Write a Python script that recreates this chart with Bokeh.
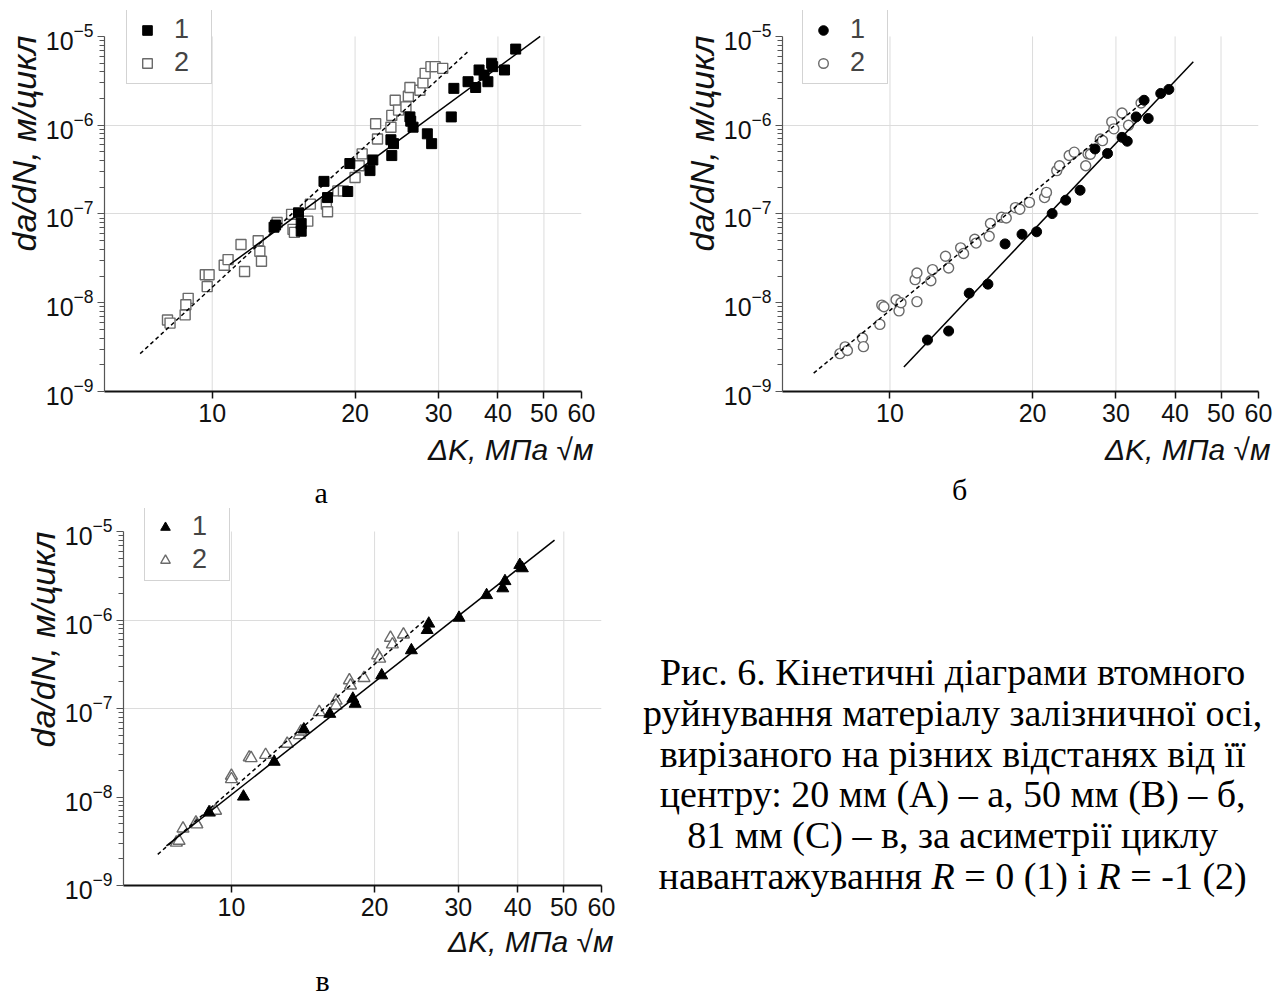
import math
from bokeh.plotting import figure
from bokeh.models import Range1d, FixedTicker, Legend, LegendItem, Div, PrintfTickFormatter, Title
from bokeh.layouts import row, column
from bokeh.embed import file_html
from bokeh.resources import INLINE

# ---------------- data ----------------
x_ticks = [10, 20, 30, 40, 50, 60]
x_grid = [10, 20, 30, 40, 50]
y_ticks = [1e-9, 1e-8, 1e-7, 1e-6, 1e-5]
y_grid = [1e-7, 1e-6]
y_minor = [k * 10.0 ** e for e in range(-9, -5) for k in range(2, 10)]
x_range_lim = (5.93, 60)
y_bottom = 1e-9
y_top_ab = 1.96e-5   # head-room above 1e-5 where the legend box sits
y_top_c = 1.82e-5

# panel а  (series 1: R = 0, series 2: R = -1)
a1_x = [13.5, 13.6, 15.2, 15.4, 15.4, 17.2, 17.5, 19.3, 19.5, 21.5, 21.8, 23.8, 24.1, 23.9,
        26.1, 26.2, 26.5, 28.4, 29.0, 31.9, 32.3, 34.6, 35.9, 36.5, 37.4, 38.1, 38.8, 39.0, 41.3, 43.6]
a1_y = [7.1e-8, 7.5e-8, 1.03e-7, 7.8e-8, 6.4e-8, 2.33e-7, 1.53e-7, 1.79e-7, 3.7e-7, 3.08e-7, 4.06e-7,
        6.86e-7, 6.2e-7, 4.55e-7, 1.24e-6, 1.11e-6, 9.5e-7, 8.0e-7, 6.2e-7, 1.24e-6, 2.6e-6, 3.09e-6,
        2.66e-6, 4.19e-6, 3.67e-6, 3.09e-6, 4.99e-6, 4.57e-6, 4.19e-6, 7.2e-6]
a2_x = [8.05, 8.15, 8.77, 8.9, 8.8, 9.67, 9.85, 9.76, 10.6, 10.8, 11.5, 11.7, 12.5, 12.6, 12.7,
        13.7, 14.7, 14.8, 14.9, 15.9, 16.1, 17.4, 17.5, 18.4, 18.9, 20.0, 20.4, 20.7, 22.1, 22.3,
        23.8, 23.9, 24.3, 24.7, 25.6, 25.9, 26.1, 27.4, 27.8, 28.1, 28.9, 29.5, 30.6]
a2_y = [6.4e-9, 5.9e-9, 7.3e-9, 1.12e-8, 9.5e-9, 2.07e-8, 2.07e-8, 1.52e-8, 2.64e-8, 3.06e-8,
        4.53e-8, 2.25e-8, 5.0e-8, 3.8e-8, 2.93e-8, 8.0e-8, 9.9e-8, 6.7e-8, 6.2e-8, 8.3e-8, 1.29e-7,
        1.29e-7, 1.06e-7, 1.82e-7, 1.82e-7, 2.58e-7, 3.5e-7, 4.75e-7, 1.04e-6, 7.0e-7, 9.5e-7,
        1.29e-6, 1.91e-6, 1.48e-6, 1.61e-6, 2.12e-6, 2.66e-6, 2.48e-6, 3.0e-6, 3.84e-6, 4.57e-6,
        4.57e-6, 4.37e-6]
a1_fit_x = [10.9, 49.1]
a1_fit_y = [2.7e-8, 1.0e-5]
a2_fit_x = [7.05, 34.6]
a2_fit_y = [2.67e-9, 6.76e-6]

# panel б
b1_x = [12.0, 13.3, 14.7, 16.1, 17.5, 19.0, 20.4, 22.0, 23.5, 25.2, 27.1, 28.8, 30.9, 31.7,
        33.1, 34.4, 35.1, 37.3, 38.8]
b1_y = [3.8e-9, 4.8e-9, 1.28e-8, 1.62e-8, 4.6e-8, 5.9e-8, 6.3e-8, 1.01e-7, 1.43e-7, 1.85e-7,
        5.4e-7, 4.8e-7, 7.3e-7, 6.6e-7, 1.24e-6, 1.91e-6, 1.19e-6, 2.28e-6, 2.53e-6]
b2_x = [7.84, 8.04, 8.13, 8.75, 8.79, 9.52, 9.61, 9.71, 10.3, 10.45, 10.55, 11.3, 11.4, 11.4,
        12.2, 12.3, 13.1, 13.3, 14.1, 14.3, 15.1, 15.2, 16.2, 16.3, 17.2, 17.6, 18.4, 18.8, 19.7,
        21.2, 21.4, 22.5, 22.8, 23.9, 24.5, 25.9, 26.2, 26.5, 27.8, 28.1, 29.4, 29.7, 30.9, 31.9, 33.9]
b2_y = [2.67e-9, 3.18e-9, 2.9e-9, 4.0e-9, 3.2e-9, 5.7e-9, 9.4e-9, 9.0e-9, 1.08e-8, 8.1e-9, 1.0e-8,
        1.82e-8, 1.03e-8, 2.16e-8, 1.77e-8, 2.36e-8, 3.34e-8, 2.46e-8, 4.15e-8, 3.58e-8, 5.2e-8,
        4.7e-8, 5.6e-8, 7.8e-8, 9.2e-8, 9.0e-8, 1.18e-7, 1.13e-7, 1.35e-7, 1.53e-7, 1.75e-7, 3.08e-7,
        3.5e-7, 4.55e-7, 4.97e-7, 3.5e-7, 4.75e-7, 4.7e-7, 7.0e-7, 6.7e-7, 1.09e-6, 9.1e-7, 1.37e-6,
        1.0e-6, 1.78e-6]
b1_fit_x = [10.7, 43.7]
b1_fit_y = [1.89e-9, 5.2e-6]
b2_fit_x = [6.9, 34.6]
b2_fit_y = [1.61e-9, 1.91e-6]

# panel в
c1_x = [8.97, 10.6, 12.3, 14.2, 16.1, 18.0, 18.2, 20.7, 23.9, 26.0, 25.8, 30.1, 34.4, 37.2,
        37.6, 40.4, 40.9]
c1_y = [6.7e-9, 1.01e-8, 2.5e-8, 5.8e-8, 8.7e-8, 1.29e-7, 1.13e-7, 2.37e-7, 4.55e-7, 9.1e-7,
        7.7e-7, 1.06e-6, 1.91e-6, 2.28e-6, 2.75e-6, 4.19e-6, 3.84e-6]
c2_x = [7.66, 7.76, 7.91, 8.42, 8.46, 9.0, 9.26, 10.0, 10.0, 10.9, 11.0, 11.8, 13.1, 13.9, 14.0,
        15.3, 16.6, 16.6, 17.7, 17.8, 19.0, 20.3, 20.5, 21.6, 21.8, 23.0]
c2_y = [3.05e-9, 3.2e-9, 4.4e-9, 5.14e-9, 4.9e-9, 6.7e-9, 7.0e-9, 1.74e-8, 1.59e-8, 2.8e-8, 2.75e-8,
        2.99e-8, 4.0e-8, 5.0e-8, 5.5e-8, 9.1e-8, 1.23e-7, 1.08e-7, 2.08e-7, 1.82e-7, 2.21e-7, 4.0e-7,
        3.66e-7, 6.3e-7, 5.3e-7, 6.86e-7]
c1_fit_x = [7.3, 47.8]
c1_fit_y = [2.8e-9, 8.0e-6]
c2_fit_x = [7.0, 25.5]
c2_fit_y = [2.25e-9, 9.96e-7]

y_label_text = "da/dN, м/цикл"
x_label_text = "ΔK, МПа √м"
series_labels = ["1", "2"]
caption_lines = [
    "Рис. 6. Кінетичні діаграми втомного",
    "руйнування матеріалу залізничної осі,",
    "вирізаного на різних відстанях від її",
    "центру: 20 мм (А) – а, 50 мм (В) – б,",
    "81 мм (С) – в, за асиметрії циклу",
    "навантажування <i>R</i> = 0 (1) і <i>R</i> = -1 (2)",
]

SANS = "Liberation Sans"
SERIF = "Liberation Serif"


def make_panel(width, height, bl, br, bt, bb, y_top, s1, s2, f1, f2, marker, size1, size2,
               legend_loc, ylab_offset, xlab_standoff):
    p = figure(width=width, height=height, x_axis_type="log", y_axis_type="log",
               x_range=Range1d(*x_range_lim), y_range=Range1d(y_bottom, y_top),
               output_backend="svg", toolbar_location=None,
               min_border_left=bl, min_border_right=br, min_border_top=bt, min_border_bottom=bb)
    p.outline_line_color = None
    p.background_fill_color = "white"
    p.border_fill_color = "white"

    p.xaxis.ticker = FixedTicker(ticks=x_ticks, minor_ticks=[])
    p.xaxis.formatter = PrintfTickFormatter(format="%d")
    p.yaxis.ticker = FixedTicker(ticks=y_ticks, minor_ticks=y_minor)
    p.yaxis.bounds = (y_ticks[0], y_ticks[-1])
    p.xgrid.visible = False
    p.ygrid.ticker = FixedTicker(ticks=y_grid)
    p.ygrid.grid_line_color = "#dcdcdc"
    p.ygrid.grid_line_width = 1
    # vertical grid lines only up to 10^-5
    p.segment(x0=x_grid, y0=[y_ticks[0]] * len(x_grid), x1=x_grid, y1=[y_ticks[-1]] * len(x_grid),
              line_color="#dcdcdc", line_width=1, level="underlay")

    for ax in (p.xaxis[0], p.yaxis[0]):
        ax.major_label_text_font = SANS
        ax.major_label_text_font_size = "25px"
        ax.major_label_text_color = "#111111"
        ax.major_tick_in = 0
        ax.minor_tick_in = 0
    p.xaxis.axis_line_color = "#111111"
    p.xaxis.axis_line_width = 2
    p.xaxis.major_tick_line_color = "#111111"
    p.xaxis.major_tick_line_width = 1.5
    p.xaxis.major_tick_out = 7
    p.xaxis.major_label_standoff = 5
    p.yaxis.axis_line_color = "#555555"
    p.yaxis.axis_line_width = 1.2
    p.yaxis.major_tick_line_color = "#555555"
    p.yaxis.major_tick_out = 7
    p.yaxis.minor_tick_line_color = "#555555"
    p.yaxis.minor_tick_out = 5
    p.yaxis.major_label_standoff = 4

    r2 = p.scatter(s2[0], s2[1], marker=marker, size=size2, fill_color="white",
                   line_color="#6a6a6a", line_width=1.4)
    r1 = p.scatter(s1[0], s1[1], marker=marker, size=size1, fill_color="black",
                   line_color="black", line_width=1)
    p.line(f1[0], f1[1], line_color="black", line_width=1.5)
    p.line(f2[0], f2[1], line_color="black", line_width=1.5, line_dash="4 3")

    legend = Legend(items=[LegendItem(label=series_labels[0], renderers=[r1]),
                           LegendItem(label=series_labels[1], renderers=[r2])],
                    location=legend_loc, margin=0, padding=5, spacing=2,
                    glyph_width=30, glyph_height=24, label_height=24, label_width=32,
                    label_standoff=12, label_text_font=SANS, label_text_font_size="27px",
                    border_line_color="#a8a8a8", border_line_width=1.5,
                    background_fill_color="white", background_fill_alpha=1)
    p.add_layout(legend, "center")

    p.add_layout(Title(text=y_label_text, align="right", offset=ylab_offset, standoff=0,
                       text_font=SANS, text_font_style="italic", text_font_size="34px",
                       text_color="#111111"), "left")
    p.add_layout(Title(text=x_label_text, align="right", offset=-12, standoff=xlab_standoff,
                       text_font=SANS, text_font_style="italic", text_font_size="30px",
                       text_color="#111111"), "below")
    return p


def letter_title(letter, offset):
    return Title(text=letter, align="left", offset=offset, standoff=0,
                 text_font=SERIF, text_font_style="normal", text_font_size="30px",
                 text_color="black")


pa = make_panel(678, 472, 104, 97, 10, 81, y_top_ab, (a1_x, a1_y), (a2_x, a2_y),
                (a1_fit_x, a1_fit_y), (a2_fit_x, a2_fit_y), "square", 10, 10,
                (22, 307), 25, 12)
pb = make_panel(598, 472, 104, 18, 10, 81, y_top_ab, (b1_x, b1_y), (b2_x, b2_y),
                (b1_fit_x, b1_fit_y), (b2_fit_x, b2_fit_y), "circle", 10, 10,
                (20, 307), 25, 12)
pc = make_panel(630, 524, 123, 29, 36, 110, y_top_c, (c1_x, c1_y), (c2_x, c2_y),
                (c1_fit_x, c1_fit_y), (c2_fit_x, c2_fit_y), "triangle", 12, 12,
                (21, 304), 23, 8)
pc.add_layout(letter_title("а", 191), "above")
pc.add_layout(letter_title("в", 192), "below")

caption_html = (
    "<div style=\"font-family:'Liberation Serif','Times New Roman',serif;color:#000;\">"
    "<div style=\"height:26px;line-height:26px;font-size:30px;padding-left:317px;\">б</div>"
    "<div style=\"font-size:38px;line-height:40.8px;text-align:center;padding-top:149px;"
    "padding-left:8px;white-space:nowrap;\">"
    + "<br>".join(caption_lines) +
    "</div></div>"
)
caption = Div(text=caption_html, width=646, height=524)

layout = column(row(pa, pb), row(pc, caption))
open("out.html", "w").write(file_html(layout, INLINE))
